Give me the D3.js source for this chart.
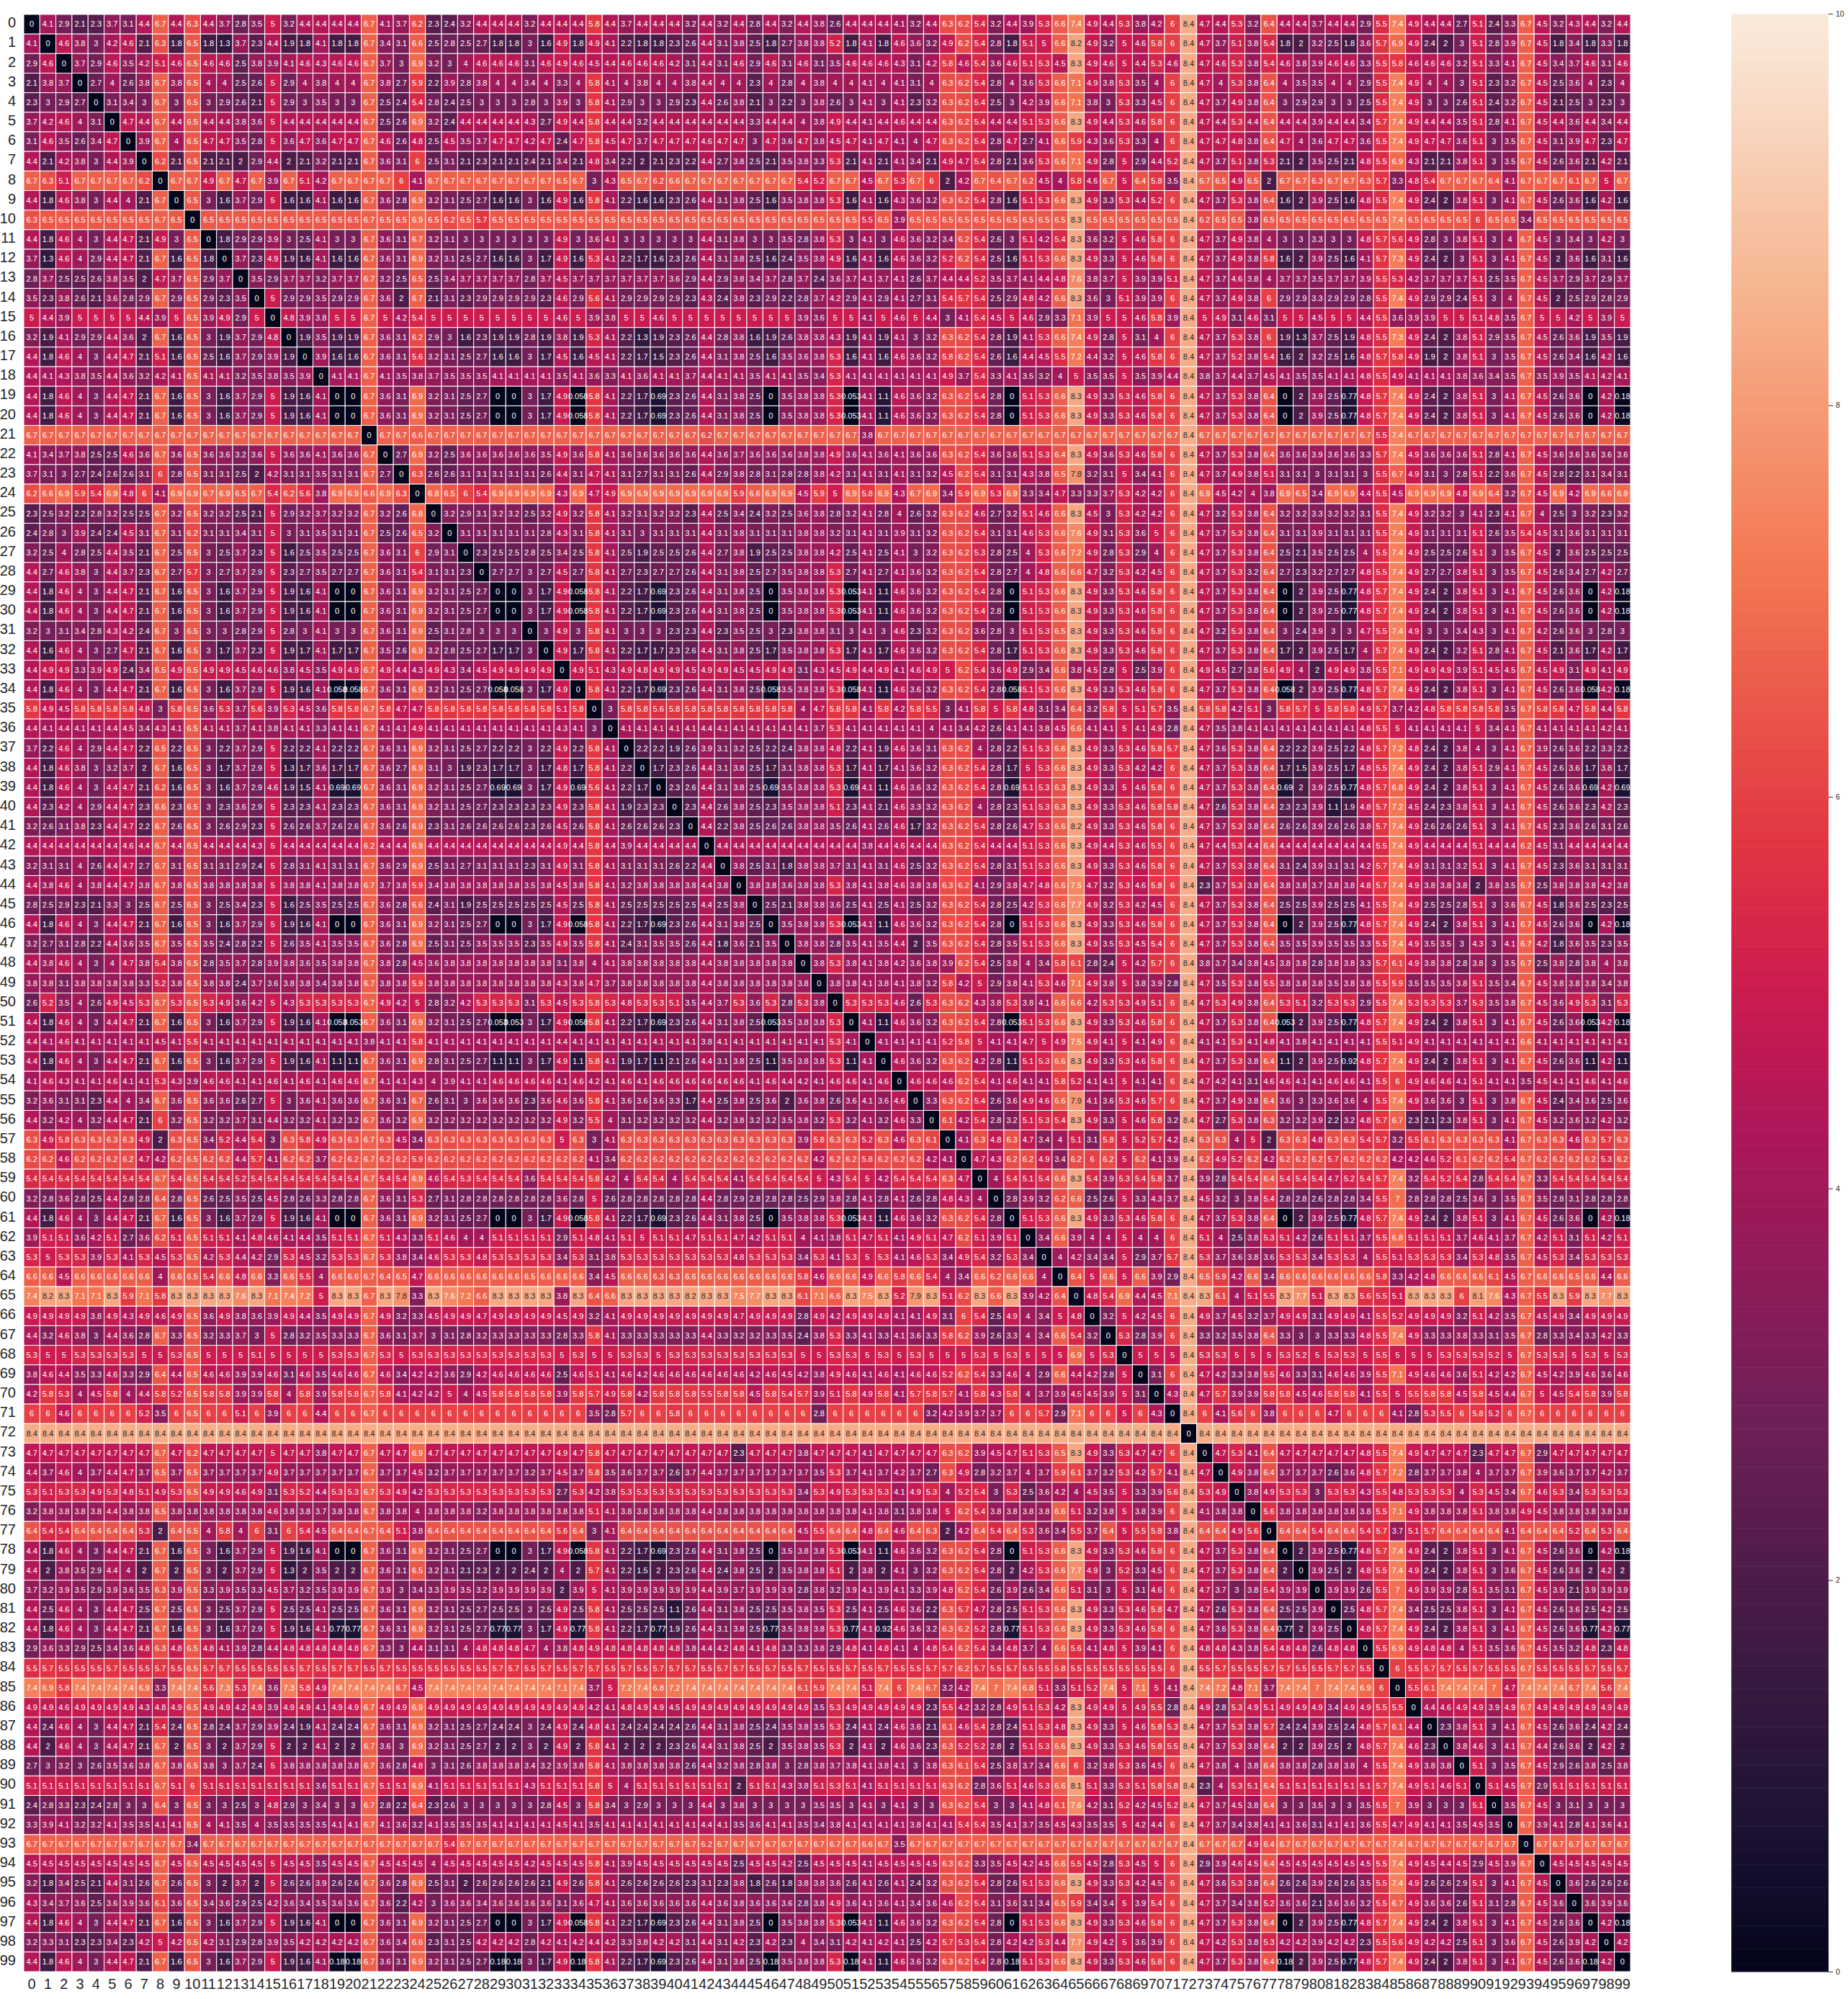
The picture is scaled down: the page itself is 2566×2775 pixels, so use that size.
<!DOCTYPE html>
<html>
<head>
<meta charset="utf-8">
<script src="https://cdn.jsdelivr.net/npm/d3@7"></script>
<style>html,body{margin:0;padding:0;background:#fff}svg{display:block}</style>
</head>
<body>
<div id="chart"></div>
<script>
// Upper triangle of the symmetric matrix.
// Each rowNN holds columns NN+1..99, in tenths of the annotated value (41 means 4.1).
const row00=[41,29,21,23,37,31,44,67,44,63,44,37,28,35,50,32,44,44,44,44,67,41,37,62,23,24,32,44,44,44,32,44,44,44,58,44,37,44,44,44,32,44,32,44,28,44,32,44,38,26,44,44,44,41,32,44,63,62,54,32,44,39,53,66,74,49,44,53,38,42,60,84,47,44,53,32,64,44,44,37,44,44,29,55,74,49,44,44,27,51,24,33,67,45,32,43,44,32,44];
const row01=[46,38,30,42,46,21,63,18,65,18,13,37,23,44,19,18,41,18,18,67,34,31,66,25,28,25,27,18,18,30,16,49,18,49,41,22,18,18,23,26,44,31,38,25,18,27,38,38,52,18,41,18,46,36,32,49,62,54,28,18,51,50,66,82,49,32,50,46,58,60,84,47,37,51,38,54,18,20,32,25,18,36,57,69,49,24,20,30,51,28,39,67,45,18,34,18,33,18];
const row02=[37,29,46,35,42,51,46,65,46,46,25,38,39,41,46,43,46,46,67,37,30,69,32,30,40,46,46,46,31,46,49,46,45,44,46,46,46,42,31,44,31,46,29,46,31,46,31,35,46,46,46,43,31,42,58,46,54,36,46,51,53,45,83,49,46,50,44,53,46,84,47,46,53,38,54,46,38,39,46,46,33,55,58,46,46,46,32,51,33,41,67,45,34,37,46,31,46];
const row03=[27,40,26,38,67,38,65,40,40,25,26,50,29,40,38,40,40,67,38,27,59,22,39,28,38,40,40,34,40,33,40,58,41,40,38,40,40,38,44,40,40,23,40,28,40,38,40,40,41,40,41,31,40,63,62,54,28,40,36,53,66,71,49,38,53,35,40,60,84,47,40,53,38,64,40,35,35,40,40,29,55,74,49,40,40,30,51,23,32,67,45,25,36,40,23,40];
const row04=[31,34,30,67,30,65,30,29,26,21,50,29,30,35,30,30,67,25,24,54,28,24,25,30,30,30,28,30,39,30,58,41,29,30,30,29,23,44,26,38,21,30,22,30,38,26,30,41,30,41,23,32,63,62,54,25,30,42,39,66,71,38,30,53,33,45,60,84,47,37,49,38,64,30,29,29,30,30,25,55,74,49,30,30,26,51,24,32,67,45,21,25,30,23,30];
const row05=[47,44,67,44,65,44,44,38,36,50,44,44,44,44,44,67,25,26,69,32,24,44,44,44,44,43,27,49,44,58,44,44,32,44,44,44,44,44,44,33,44,44,40,38,49,44,41,44,46,44,44,63,62,54,44,44,51,53,66,83,49,44,53,46,58,60,84,47,44,53,44,64,44,44,39,44,44,34,57,74,49,44,44,35,51,28,41,67,45,44,36,44,34,44];
const row06=[39,67,40,65,47,47,35,28,50,36,47,36,47,47,67,46,26,48,25,45,35,37,47,47,42,47,24,47,58,45,47,37,47,47,47,46,47,47,30,47,36,47,38,45,47,41,47,41,40,47,63,62,54,28,47,27,41,66,59,43,36,53,33,40,60,84,47,47,48,38,64,47,40,36,47,47,36,55,74,49,47,47,36,51,30,35,67,45,31,39,47,23,47];
const row07=[62,21,65,21,21,20,29,44,20,21,32,21,21,67,36,31,60,25,31,21,23,21,21,24,21,34,21,48,34,22,20,21,23,22,44,27,38,25,21,35,38,33,53,21,41,21,41,34,21,49,47,54,28,21,36,53,66,71,49,28,50,29,44,52,84,47,37,51,38,53,21,20,35,25,21,48,55,69,43,21,21,38,51,30,35,67,45,26,36,21,42,21];
const row08=[67,67,49,67,47,67,39,67,51,42,67,67,67,67,60,41,67,67,67,67,67,67,67,67,65,67,30,43,65,67,62,66,67,67,67,67,67,67,67,54,52,67,67,45,67,53,67,60,20,42,67,64,67,62,45,40,58,46,67,50,64,58,35,84,67,65,49,65,20,67,67,63,67,67,63,57,33,48,54,67,67,67,64,41,67,67,67,61,67,50,67];
const row09=[65,30,16,37,29,50,16,16,41,16,16,67,36,28,69,32,31,25,27,16,16,30,16,49,16,58,41,22,16,16,23,26,44,31,38,25,16,35,38,38,53,16,41,16,43,36,32,63,62,54,28,16,51,53,66,83,49,33,53,44,52,60,84,47,37,53,38,64,16,20,39,25,16,48,55,74,49,24,20,38,51,30,41,67,45,26,36,16,42,16];
const row10=[65,65,65,65,65, 65,65,65,65,65, 67,65,65,69,65,
62,65,57, 65,65,65,65,65, 65,65,65,65,65, 65,65,65,65,65, 65,65,65,65,65, 65,65,65, 55,65,39, 65,65,65,65, 65,65,65,65,
65,65,83, 65,65,65,65,65,65, 84,62,65,65,38, 65,65,65,65, 65,65,65,65, 74, 65,65,65,65, 60,65,65,34, 65,65,65,65,65,65];
const row11=[18,29,29,39,30,25,41,30,30,67,36,31,67,32,31,30,30,30,30,30,30,49,30,36,41,30,30,30,30,30,44,31,38,30,30,35,28,38,53,30,41,30,46,36,32,34,62,54,26,30,51,42,54,83,36,32,50,46,58,60,84,47,37,49,38,40,30,30,33,30,30,48,57,56,49,28,30,38,51,30,40,67,45,30,34,30,42,30];
const row12=[37,23,49,19,16,41,16,16,67,36,31,69,32,31,25,27,16,16,30,17,49,16,53,41,22,17,16,23,26,44,31,38,25,16,24,35,38,49,16,41,16,46,36,32,52,62,54,25,16,51,53,66,83,49,33,50,46,58,60,84,47,37,49,38,58,16,20,39,25,16,41,57,73,49,24,20,30,51,30,41,67,45,20,36,16,31,16];
const row13=[35,29,37,37,32,37,37,67,32,25,65,25,34,37,37,37,37,28,37,45,37,37,37,37,37,37,36,29,44,29,38,34,37,28,37,24,36,37,41,37,41,26,37,44,44,52,35,37,41,44,48,76,38,37,50,39,39,51,84,47,37,46,38,40,37,37,35,37,37,39,55,53,42,37,37,37,51,25,35,67,45,37,29,37,29,37];
const row14=[50,29,29,35,29,29,67,36,20,67,21,31,23,29,29,29,29,23,46,29,56,41,29,29,29,29,23,43,24,38,23,29,22,28,37,42,29,41,29,41,27,31,54,57,54,25,29,48,42,66,83,36,30,51,39,39,60,84,47,37,49,38,60,29,29,33,29,29,28,55,74,49,29,29,24,51,30,40,67,45,20,25,29,28,29];
const row15=[48,39,38,50,50,67,50,42,54,50,50,50,50,50,50,50,50,46,50,39,38,50,50,46,50,50,50,50,50,50,50,50,39,36,50,50,41,50,46,50,44,30,41,54,45,50,46,29,33,71,39,50,50,46,58,39,84,50,49,31,46,31,50,50,45,50,50,44,55,36,39,39,50,50,51,48,35,67,50,50,42,50,39,50];
const row16=[19,35,19,19,67,36,31,62,29,30,16,23,19,19,28,19,38,19,53,41,22,13,19,23,26,44,28,38,16,19,26,38,38,43,19,41,19,41,30,32,63,62,54,28,19,41,53,66,74,49,28,50,31,40,60,84,47,37,53,38,60,19,13,37,25,19,48,55,73,49,24,20,38,51,29,35,67,45,26,36,19,35,19];
const row17=[39,16,16,67,36,31,56,32,31,25,27,16,16,30,17,45,16,45,41,22,17,15,23,26,44,31,38,25,16,35,36,38,53,16,41,16,46,36,32,58,62,54,26,16,44,45,55,72,44,32,50,46,58,60,84,47,37,52,38,54,16,20,32,25,16,48,57,58,49,19,20,38,51,30,35,67,45,26,34,16,42,16];
const row18=[41,41,67,41,35,38,37,35,35,35,41,41,41,41,35,41,36,33,41,36,41,41,37,44,41,41,35,41,41,35,34,53,41,41,41,41,41,41,49,37,54,33,41,35,32,40,50,35,35,50,35,39,44,84,38,37,44,37,45,41,35,35,41,41,48,55,49,41,41,41,38,36,34,35,67,35,39,35,41,42,41];
const row19=[0,67,36,31,69,32,31,25,27,0,0,30,17,49,.58,58,41,22,17,6.9,23,26,44,31,38,25,0,35,38,38,53,.53,41,11,46,36,32,63,62,54,28,0,51,53,66,83,49,33,53,46,58,60,84,47,37,53,38,64,0,20,39,25,7.7,48,57,74,49,24,20,38,51,30,41,67,45,26,36,0,42,1.8];
const row20=[67,36,31,69,32,31,25,27,0,0,30,17,49,.58,58,41,22,17,6.9,23,26,44,31,38,25,0,35,38,38,53,.53,41,11,46,36,32,63,62,54,28,0,51,53,66,83,49,33,53,46,58,60,84,47,37,53,38,64,0,20,39,25,7.7,48,57,74,49,24,20,38,51,30,41,67,45,26,36,0,42,1.8];
const row21=[67,67,66, 67,67,67,67,67, 67,67,67,67,67, 67,67,67,67,67, 67,67, 62,67,67,67,
67,67,67,67,67,67, 38, 67,67,67,67,67, 67,67,67,67,67, 67,67,67,67,67, 67,67,67,67, 84,
67,67,67,67,67, 67,67,67,67,67, 67, 55,74, 67,67,67,67,67,67,67, 67,67,67,67,67,67,67];
const row22=[27,69,32,25,36,36,36,36,36,35,49,36,58,41,36,36,36,36,36,44,36,37,36,36,36,38,38,49,36,41,36,41,36,36,63,62,54,36,36,51,53,64,83,49,36,53,46,58,60,84,47,37,53,38,64,36,36,39,36,36,33,57,74,49,36,36,36,51,28,41,67,45,36,36,36,36,36];
const row23=[63,26,26,31,31,31,31,31,26,44,31,47,41,31,27,31,31,26,44,29,38,28,31,28,28,38,42,31,41,31,41,31,32,45,62,54,31,31,43,38,65,78,32,31,50,34,41,60,84,47,37,49,38,51,31,31,30,31,31,30,55,67,49,31,30,28,51,22,36,67,45,28,22,31,34,31];
const row24=[68,65,60,54,69,69,69,69,43,69,47,49,69,69,69,69,69,69,69,59,66,69,69,45,59,50,69,58,69,43,67,69,34,59,69,53,69,33,34,47,33,33,37,53,42,42,60,84,69,45,42,40,38,69,65,34,69,69,44,55,45,69,69,69,48,69,64,32,67,45,69,42,69,66,69];
const row25=[32,29,31,32,32,25,32,49,32,58,41,32,31,32,32,23,44,25,34,24,32,25,36,38,28,32,41,28,40,26,32,63,62,46,27,32,51,46,66,83,45,30,53,42,42,60,84,47,32,53,38,64,32,32,33,32,32,31,55,74,49,32,32,30,41,23,41,67,40,25,30,32,23,32];
const row26=[31,31,31,31,31,28,43,31,58,41,31,30,31,31,31,44,31,38,31,31,31,38,38,32,31,41,31,39,31,32,63,62,54,31,31,46,53,66,76,49,31,53,36,50,60,84,47,37,53,38,64,31,31,39,31,31,31,55,74,49,31,31,31,51,26,35,54,45,31,36,31,31,31];
const row27=[23,25,25,28,25,34,25,58,41,25,19,25,25,26,44,27,38,19,25,25,38,38,42,25,41,25,41,30,32,63,62,53,28,25,40,53,66,72,49,28,53,29,40,60,84,47,37,53,38,64,25,21,35,25,25,40,55,74,49,25,25,26,51,30,35,67,45,20,36,25,25,25];
const row28=[27,27,30,27,45,27,58,41,27,23,27,27,26,44,31,38,25,27,35,38,38,53,27,41,27,41,36,32,63,62,54,28,27,40,48,66,66,47,32,53,42,45,60,84,47,37,53,32,64,27,23,32,27,27,48,55,74,49,27,27,38,51,30,35,67,45,26,34,27,42,27];
const row29=[0,30,17,49,.58,58,41,22,17,6.9,23,26,44,31,38,25,0,35,38,38,53,.53,41,11,46,36,32,63,62,54,28,0,51,53,66,83,49,33,53,46,58,60,84,47,37,53,38,64,0,20,39,25,7.7,48,57,74,49,24,20,38,51,30,41,67,45,26,36,0,42,1.8];
const row30=[30,17,49,.58,58,41,22,17,6.9,23,26,44,31,38,25,0,35,38,38,53,.53,41,11,46,36,32,63,62,54,28,0,51,53,66,83,49,33,53,46,58,60,84,47,37,53,38,64,0,20,39,25,7.7,48,57,74,49,24,20,38,51,30,41,67,45,26,36,0,42,1.8];
const row31=[30,49,30,58,41,30,30,30,23,23,44,23,35,25,30,23,38,38,31,30,41,30,46,23,32,63,62,36,28,30,51,53,65,83,49,33,53,46,58,60,84,47,32,53,38,64,30,24,39,30,30,47,55,74,49,30,30,34,43,30,41,67,42,26,36,30,28,30];
const row32=[49,17,58,41,22,17,17,23,26,44,31,38,25,17,35,38,38,53,17,41,17,46,36,32,63,62,54,28,17,51,53,66,83,49,33,53,46,58,60,84,47,37,53,38,64,17,20,39,25,17,40,57,74,49,24,20,32,51,28,41,67,45,21,36,17,42,17];
const row33=[49,51,43,49,48,49,49,45,49,49,45,45,49,49,31,43,45,49,44,49,41,46,49,50,62,54,36,49,29,34,66,38,45,28,50,25,39,60,84,49,45,27,38,56,49,40,20,49,49,38,55,71,49,49,49,39,51,45,45,67,45,49,31,49,41,49];
const row34=[58,41,22,17,6.9,23,26,44,31,38,25,.58,35,38,38,53,.58,41,11,46,36,32,63,62,54,28,.58,51,53,66,83,49,33,53,46,58,60,84,47,37,53,38,64,.58,20,39,25,7.7,48,57,74,49,24,20,38,51,30,41,67,45,26,36,.58,42,1.8];
const row35=[30,58,58,56,58,58,58,58,58,58,58,58,40,47,58,58,41,58,42,58,55,30,41,58,50,58,48,31,34,64,32,58,50,51,57,35,84,58,58,42,51,30,58,57,50,58,58,49,57,37,42,48,58,58,58,58,35,67,58,58,47,58,44,58];
const row36=[41,41,41,41,41,44,41,41,41,41,41,41,37,53,41,41,41,41,41,40,41,34,42,26,41,41,38,45,66,41,41,50,41,49,28,84,47,35,38,41,41,41,41,41,41,41,48,55,50,41,41,41,41,50,34,41,67,41,41,41,41,42,41];
const row37=[22,22,19,26,39,31,32,25,22,24,38,38,48,22,41,19,46,36,31,63,62,40,28,22,51,53,66,83,49,33,53,46,58,57,84,47,36,53,38,64,22,22,39,25,22,48,57,72,48,24,20,38,40,30,41,67,39,26,36,22,33,22];
const row38=[17,23,26,44,31,38,25,17,31,38,38,53,17,41,17,41,36,32,63,62,54,28,17,50,53,66,83,49,33,53,42,42,60,84,47,37,53,38,64,17,15,39,25,17,48,55,74,49,24,20,38,51,29,41,67,45,26,36,17,38,17];
const row39=[23,26,44,31,38,25,6.9,35,38,38,53,6.9,41,11,46,36,32,63,62,54,28,6.9,51,53,63,83,49,33,50,46,58,60,84,47,37,53,38,64,6.9,20,39,25,7.7,48,57,68,49,24,20,38,51,30,41,67,45,26,36,6.9,42,6.9];
const row40=[23,44,26,38,25,23,35,38,38,51,23,41,21,46,33,32,63,62,40,28,23,51,53,63,83,49,33,53,46,58,58,84,47,26,53,38,64,23,23,39,11,19,48,57,72,45,24,23,38,51,30,41,67,45,26,36,23,42,23];
const row41=[44,22,38,25,26,26,38,38,35,26,41,26,46,17,32,63,62,54,28,26,47,53,66,82,49,33,53,46,58,60,84,47,37,53,38,64,26,26,39,26,26,38,57,74,49,26,26,26,51,30,41,67,45,23,36,26,31,26];
const row42=[44,44,44,44,44,44,44,44,44,38,44,46,44,44,63,62,54,44,44,51,53,66,83,49,44,53,46,55,60,84,47,44,53,44,64,44,44,44,44,44,44,55,74,49,44,44,44,51,44,44,62,45,31,44,44,44,44];
const row43=[38,25,31,18,38,38,37,31,41,31,46,25,32,63,62,54,28,31,51,53,66,83,49,33,53,46,58,60,84,47,37,53,38,64,31,24,39,31,31,42,57,74,49,31,31,32,51,30,41,67,45,23,36,31,31,31];
const row44=[38,38,36,38,38,53,38,41,38,46,38,38,63,62,41,29,38,47,48,66,75,47,32,53,46,58,60,84,23,37,53,38,64,38,38,37,38,38,48,57,74,49,38,38,38,20,38,35,67,25,38,38,38,42,38];
const row45=[25,21,38,38,36,25,41,25,41,25,32,63,62,54,28,25,42,53,66,77,49,32,53,42,45,60,84,47,37,53,38,64,25,25,39,25,25,41,55,74,49,25,25,28,51,30,36,67,45,18,36,25,23,25];
const row46=[35,38,38,53,.53,41,11,46,36,32,63,62,54,28,0,51,53,66,83,49,33,53,46,58,60,84,47,37,53,38,64,0,20,39,25,7.7,48,57,74,49,24,20,38,51,30,41,67,45,26,36,0,42,1.8];
const row47=[38,38,28,35,41,35,44,20,35,63,62,54,28,35,51,53,66,83,49,35,53,45,54,60,84,47,37,53,38,64,35,35,39,35,35,33,55,74,49,35,35,30,43,30,41,67,42,18,36,35,23,35];
const row48=[38,53,38,41,38,42,36,38,39,62,54,25,38,40,34,58,61,28,24,50,42,57,60,84,38,37,34,38,45,38,38,28,38,38,33,57,61,49,38,38,28,38,30,35,67,25,38,28,38,40,38];
const row49=[38,38,41,38,41,38,32,58,42,50,29,38,41,53,46,71,49,38,50,38,39,28,84,47,35,53,38,55,38,38,38,35,38,38,55,59,35,35,35,38,51,35,34,67,45,38,38,38,34,38];
const row50=[53,53,53,46,26,53,63,62,43,38,53,38,41,66,66,42,53,53,49,51,60,84,47,53,49,38,64,53,51,32,53,53,29,55,74,53,53,53,37,53,35,38,67,45,36,49,53,31,53];
const row51=[41,11,46,36,32,63,62,54,28,.53,51,53,66,83,49,33,53,46,58,60,84,47,37,53,38,64,.53,20,39,25,7.7,48,57,74,49,24,20,38,51,30,41,67,45,26,36,.53,42,1.8];
const row52=[41,41,41,41,52,58,50,41,41,47,50,49,75,49,41,50,41,49,60,84,41,41,53,41,48,41,38,41,41,41,41,55,51,49,41,41,41,41,41,41,66,41,41,41,41,41,41];
const row53=[46,36,32,63,62,42,28,11,51,53,66,83,49,33,53,46,58,60,84,47,37,53,38,64,11,20,39,25,9.2,48,57,74,49,24,20,38,51,30,41,67,45,26,36,11,42,11];
const row54=[46,46,46,62,54,41,46,41,41,58,52,41,41,50,41,41,60,84,47,42,41,31,46,46,41,41,46,46,41,55,60,49,46,46,41,51,41,41,35,45,41,41,46,41,46];
const row55=[33,63,62,54,26,36,49,46,66,79,41,36,53,46,57,60,84,47,37,49,38,64,36,30,33,36,36,40,55,74,49,36,36,30,51,30,38,67,45,24,34,36,25,36];
const row56=[61,42,54,28,32,51,53,54,83,49,33,50,46,58,32,84,47,27,53,38,63,32,32,39,22,32,48,57,67,23,21,23,38,51,30,41,67,45,32,36,32,42,32];
const row57=[41,63,48,63,47,34,40,51,31,58,50,52,57,42,84,63,63,40,50,20,63,63,48,63,63,54,57,32,55,61,63,63,63,63,41,67,63,63,46,63,57,63];
const row58=[47,43,62,62,49,34,62,60,62,50,62,41,39,84,62,49,52,62,42,62,62,62,57,62,62,62,42,42,46,52,61,62,62,54,67,62,62,62,62,53,62];
const row59=[40,54,51,54,66,83,54,39,53,54,58,37,84,39,28,54,54,64,54,54,54,47,52,54,57,74,32,54,52,54,28,54,54,67,33,54,54,54,54,54];
const row60=[28,39,32,62,66,25,26,50,33,43,37,84,45,32,30,38,54,28,28,26,28,28,34,55,70,28,28,28,25,36,30,35,67,35,28,31,28,28,28];
const row61=[51,53,66,83,49,33,53,46,58,60,84,47,37,53,38,64,0,20,39,25,7.7,48,57,74,49,24,20,38,51,30,41,67,45,26,36,0,42,1.8];
const row62=[34,66,39,40,40,50,40,40,60,84,51,40,25,38,53,51,42,26,51,51,37,55,68,51,51,51,37,46,41,37,67,42,51,31,51,42,51];
const row63=[40,42,34,34,50,29,37,57,84,53,37,36,38,36,53,53,34,53,53,40,55,51,53,53,53,34,53,48,35,67,45,53,34,53,53,53];
const row64=[64,50,66,50,66,39,29,84,65,59,42,66,34,66,66,66,66,66,66,58,33,42,48,66,66,66,61,45,67,66,66,65,66,44,66];
const row65=[48,54,69,44,45,71,84,83,61,40,51,55,83,77,51,83,83,56,55,51,83,83,83,60,81,76,43,67,55,83,59,83,77,83];
const row66=[32,50,42,45,60,84,49,37,45,32,37,49,49,31,49,49,41,55,52,49,49,49,32,51,42,35,67,45,49,34,49,49,49];
const row67=[53,28,39,60,84,33,32,35,38,64,33,30,30,33,33,48,55,74,49,33,33,38,33,31,35,67,28,33,34,33,42,33];
const row68=[50,50,50,84,53,53,50,50,50,53,52,50,53,53,50,55,50,50,50,53,53,53,52,50,67,53,53,50,53,50,53];
const row69=[31,60,84,47,42,33,38,55,46,33,31,46,46,39,55,71,49,46,46,36,51,42,42,67,45,42,39,46,36,46];
const row70=[43,84,47,57,39,39,58,58,45,46,58,58,41,55,50,55,58,58,45,58,45,44,67,50,45,54,58,39,58];
const row71=[84,60,41,56,60,38,60,60,60,47,60,60,60,41,28,53,55,60,58,52,60,67,60,60,60,60,60,60];
const row72=[84,84,84,84,84,84,84,84,84,84,84,84,84,84,84,84,84,84,84,84,84,84,84,84,84,84,84];
const row73=[47,53,41,64,47,47,47,47,47,48,55,74,49,47,47,47,23,47,47,67,29,47,47,47,47,47];
const row74=[49,38,64,37,37,37,26,36,48,57,72,28,37,37,38,40,37,37,67,39,36,37,37,42,37];
const row75=[38,49,53,53,30,53,53,43,55,48,53,53,53,40,53,45,34,67,46,53,34,53,53,53];
const row76=[56,38,38,38,38,38,38,55,71,49,38,38,38,51,38,38,49,45,38,38,38,38,38];
const row77=[64,64,54,64,64,54,57,37,51,57,64,64,64,64,41,64,64,64,52,64,53,64];
const row78=[20,39,25,7.7,48,57,74,49,24,20,38,51,30,41,67,45,26,36,0,42,1.8];
const row79=[39,25,20,48,55,74,49,24,20,38,51,30,36,67,45,26,36,20,42,20];
const row80=[39,39,26,55,70,49,39,39,28,51,35,31,67,45,39,21,39,39,39];
const row81=[25,48,57,74,34,25,25,38,51,30,41,67,45,26,36,25,42,25];
const row82=[48,57,74,49,24,20,38,51,30,41,67,45,26,36,7.7,42,7.7];
const row83=[55,69,49,48,48,40,51,35,36,67,45,35,32,48,23,48];
const row84=[60,55,57,57,55,57,55,55,67,55,55,55,57,55,57];
const row85=[55,61,74,74,74,70,47,74,74,74,67,74,56,74];
const row86=[44,46,49,49,39,49,67,49,49,49,49,49,49];
const row87=[23,38,51,30,41,67,45,26,36,24,42,24];
const row88=[38,46,30,41,67,44,26,36,20,42,20];
const row89=[51,30,35,67,45,29,26,38,25,38];
const row90=[51,45,67,29,51,51,51,51,51];
const row91=[35,67,45,30,31,30,30,30];
const row92=[67,39,41,28,41,36,41];
const row93=[67,67,67,67,67,67];
const row94=[45,45,45,45,45];
const row95=[36,26,26,26];
const row96=[36,39,36];
const row97=[42,1.8];
const row98=[42];
const row99=[];

const upperRows=[row00,row01,row02,row03,row04,row05,row06,row07,row08,row09,row10,row11,row12,row13,row14,row15,row16,row17,row18,row19,row20,row21,row22,row23,row24,row25,row26,row27,row28,row29,row30,row31,row32,row33,row34,row35,row36,row37,row38,row39,row40,row41,row42,row43,row44,row45,row46,row47,row48,row49,row50,row51,row52,row53,row54,row55,row56,row57,row58,row59,row60,row61,row62,row63,row64,row65,row66,row67,row68,row69,row70,row71,row72,row73,row74,row75,row76,row77,row78,row79,row80,row81,row82,row83,row84,row85,row86,row87,row88,row89,row90,row91,row92,row93,row94,row95,row96,row97,row98,row99];
const labels=d3.range(upperRows.length);
const colorbarTicks=[0,2,4,6,8,10];
const rocketStops=["#03051a","#1b1133","#35193e","#701f57","#ad1759","#cb1b4f","#e13342","#f37651","#f6b48f","#faebdd"];
const rocketPositions=[0,.07,1/7,2/7,3/7,.5,4/7,5/7,6/7,1];

const cells=[];
labels.forEach(i=>{
  cells.push({row:i,col:i,value:0});
  upperRows[i].forEach((t,k)=>{
    const j=i+1+k;
    if(j>99) return;
    cells.push({row:i,col:j,value:t/10});
    cells.push({row:j,col:i,value:t/10});
  });
});

const chartWidth=2566,chartHeight=2775;
const gridLeft=33,gridRight=2264,gridTop=20,gridBottom=2737;
const x=d3.scaleBand().domain(labels).range([gridLeft,gridRight]);
const y=d3.scaleBand().domain(labels).range([gridTop,gridBottom]);
const color=d3.scaleLinear().domain(rocketPositions.map(p=>p*10)).range(rocketStops).interpolate(d3.interpolateRgb);

function luminance(c){
  const o=d3.rgb(c);
  const f=v=>{v/=255;return v<=.03928?v/12.92:Math.pow((v+.055)/1.055,2.4);};
  return .2126*f(o.r)+.7152*f(o.g)+.0722*f(o.b);
}
const fmt=v=>String(+v.toPrecision(2));

const svg=d3.select("#chart").append("svg").attr("width",chartWidth).attr("height",chartHeight)
  .attr("viewBox",[0,0,chartWidth,chartHeight]).style("font-family","'Liberation Sans',Arial,sans-serif");

svg.append("g").selectAll("rect").data(cells).join("rect")
  .attr("x",d=>x(d.col)).attr("y",d=>y(d.row))
  .attr("width",x.bandwidth()).attr("height",y.bandwidth())
  .attr("fill",d=>color(d.value)).attr("stroke","#fff").attr("stroke-width",1);

svg.append("g").attr("font-size",11).attr("text-anchor","middle").selectAll("text").data(cells).join("text")
  .attr("x",d=>x(d.col)+x.bandwidth()/2).attr("y",d=>y(d.row)+y.bandwidth()/2).attr("dy",".34em")
  .attr("fill",d=>luminance(color(d.value))>.408?"#262626":"#fff")
  .text(d=>fmt(d.value));

const ax=svg.append("g").attr("transform",`translate(0,${gridBottom})`)
  .call(d3.axisBottom(x).tickSize(0).tickPadding(9.5));
const ay=svg.append("g").attr("transform",`translate(${gridLeft},0)`)
  .call(d3.axisLeft(y).tickSize(0).tickPadding(11));
[ax,ay].forEach(a=>{
  a.select(".domain").remove();
  a.selectAll("text").attr("font-size",20).attr("font-family","'Liberation Sans',Arial,sans-serif").attr("fill","#262626");
});
ay.selectAll("text").attr("dy",".23em");

const cbLeft=2404,cbRight=2539,cbTop=19;
const cbScale=d3.scaleLinear().domain([0,10]).range([gridBottom,cbTop]);
const steps=d3.range(256);
svg.append("g").selectAll("rect").data(steps).join("rect")
  .attr("x",cbLeft).attr("width",cbRight-cbLeft)
  .attr("y",s=>cbScale((s+1)/256*10))
  .attr("height",s=>cbScale(s/256*10)-cbScale((s+1)/256*10)+.5)
  .attr("fill",s=>color((s+.5)/256*10));
const cb=svg.append("g").attr("transform",`translate(${cbRight},0)`)
  .call(d3.axisRight(cbScale).tickValues(colorbarTicks).tickSize(6).tickPadding(4).tickFormat(d3.format("d")));
cb.select(".domain").remove();
cb.selectAll("line").attr("stroke","#262626");
cb.selectAll("text").attr("font-size",10.5).attr("font-family","'Liberation Sans',Arial,sans-serif").attr("fill","#262626");

const badRows=upperRows.map((r,i)=>r.length!==99-i?i+":"+r.length+"/"+(99-i):null).filter(Boolean);
if(badRows.length) throw new Error("row lengths "+badRows.join(" "));
</script>
</body>
</html>
